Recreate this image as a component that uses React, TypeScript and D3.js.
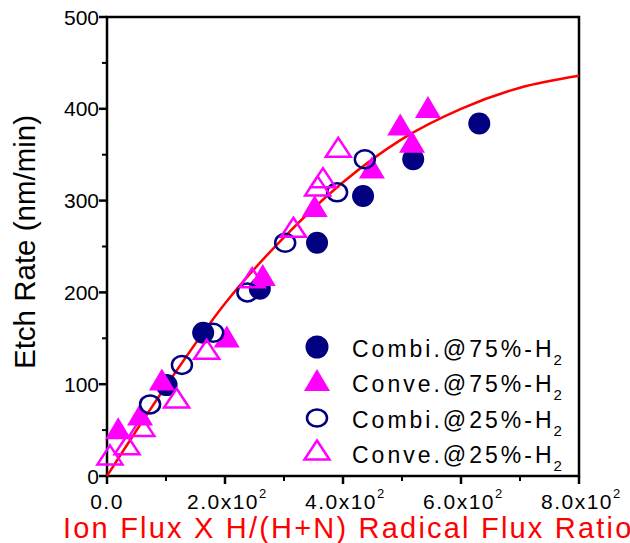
import * as d3 from 'd3';
import React, { useRef, useEffect } from 'react';

const combi75 = [[101, 99], [163, 156], [259, 204], [356, 254], [434, 305], [519, 345], [631, 384]];
const conve75 = [[19, 52], [56, 67], [93, 105], [203, 152], [264, 219], [352, 294], [449, 336], [497, 383], [517, 364], [544, 402]];
const combi25 = [[73, 78], [127, 121], [180, 156], [238, 200], [302, 254], [390, 309], [437, 345]];
const conve25 = [[5, 23], [34, 34], [59, 54], [118, 85], [169, 138], [246, 216], [316, 271], [357, 316], [366, 325], [392, 358]];
const fitLine = [[0, 0], [100, 98], [200, 188], [300, 260], [400, 320], [500, 367], [600, 400], [700, 423], [800, 436]];

const xTicks = [0, 200, 400, 600, 800];
const xMinor = [100, 300, 500, 700];
const xTickLabels = ['0.0', '2.0x10', '4.0x10', '6.0x10', '8.0x10'];
const yTicks = [0, 100, 200, 300, 400, 500];
const yMinor = [50, 150, 250, 350, 450];
const legendLabels = ['Combi.@75%-H', 'Conve.@75%-H', 'Combi.@25%-H', 'Conve.@25%-H'];

const NAVY = '#000080';
const MAGENTA = '#ff00ff';

function App() {
    const ref = useRef(null);

    useEffect(() => {
        const svg = d3.select(ref.current);
        svg.selectAll('*').remove();

        const left = 107, right = 579, top = 17, bottom = 476;
        const x = d3.scaleLinear().domain([0, 800]).range([left, right]);
        const y = d3.scaleLinear().domain([0, 500]).range([bottom, top]);
        const font = 'Arial, "Liberation Sans", Helvetica, sans-serif';

        const triPath = (w, h) => `M0,${-h / 2}L${w / 2},${h / 2}L${-w / 2},${h / 2}Z`;

        // frame
        svg.append('rect')
            .attr('x', left).attr('y', top)
            .attr('width', right - left).attr('height', bottom - top)
            .attr('fill', 'none').attr('stroke', '#000').attr('stroke-width', 2.5);

        // y ticks
        yTicks.forEach(t => {
            svg.append('line').attr('x1', left - 8).attr('x2', left).attr('y1', y(t)).attr('y2', y(t))
                .attr('stroke', '#000').attr('stroke-width', 2.5);
            svg.append('text').attr('x', 99).attr('y', y(t)).attr('dy', '0.36em')
                .attr('text-anchor', 'end').style('font-family', font).style('font-size', '21px')
                .text(t);
        });
        yMinor.forEach(t => {
            svg.append('line').attr('x1', left - 5).attr('x2', left).attr('y1', y(t)).attr('y2', y(t))
                .attr('stroke', '#000').attr('stroke-width', 2);
        });

        // x ticks
        xTicks.forEach((t, i) => {
            svg.append('line').attr('x1', x(t)).attr('x2', x(t)).attr('y1', bottom).attr('y2', bottom + 8)
                .attr('stroke', '#000').attr('stroke-width', 2.5);
            const lab = svg.append('text').attr('y', 509)
                .style('font-family', font).style('font-size', '21px').style('letter-spacing', '1.5px');
            if (i === 0) {
                lab.attr('x', x(t)).attr('text-anchor', 'middle').text(xTickLabels[i]);
            } else {
                lab.attr('x', x(t) - 38).text(xTickLabels[i]);
                lab.append('tspan').attr('dy', -11).style('font-size', '13px').text('2');
            }
        });
        xMinor.forEach(t => {
            svg.append('line').attr('x1', x(t)).attr('x2', x(t)).attr('y1', bottom).attr('y2', bottom + 5)
                .attr('stroke', '#000').attr('stroke-width', 2);
        });

        // fit line
        const line = d3.line().x(d => x(d[0])).y(d => y(d[1])).curve(d3.curveMonotoneX);
        svg.append('path').datum(fitLine).attr('d', line)
            .attr('fill', 'none').attr('stroke', '#ff0000').attr('stroke-width', 2.5);

        // series
        svg.selectAll('.c75').data(combi75).enter().append('circle')
            .attr('cx', d => x(d[0])).attr('cy', d => y(d[1])).attr('r', 11).attr('fill', NAVY);
        svg.selectAll('.v75').data(conve75).enter().append('path')
            .attr('d', triPath(26, 22))
            .attr('transform', d => `translate(${x(d[0])},${y(d[1])})`).attr('fill', MAGENTA);
        svg.selectAll('.c25').data(combi25).enter().append('ellipse')
            .attr('cx', d => x(d[0])).attr('cy', d => y(d[1])).attr('rx', 10).attr('ry', 9)
            .attr('fill', 'none').attr('stroke', NAVY).attr('stroke-width', 2.5);
        svg.selectAll('.v25').data(conve25).enter().append('path')
            .attr('d', triPath(25, 19))
            .attr('transform', d => `translate(${x(d[0])},${y(d[1])})`)
            .attr('fill', 'none').attr('stroke', MAGENTA).attr('stroke-width', 2.5);

        // legend
        const rowsY = [347, 380, 418, 450];
        const baseY = [357, 392, 428, 463];
        svg.append('circle').attr('cx', 317).attr('cy', rowsY[0]).attr('r', 11.5).attr('fill', NAVY);
        svg.append('path').attr('d', triPath(26, 22)).attr('transform', `translate(317,${rowsY[1]})`).attr('fill', MAGENTA);
        svg.append('ellipse').attr('cx', 317).attr('cy', rowsY[2]).attr('rx', 10).attr('ry', 8.5)
            .attr('fill', 'none').attr('stroke', NAVY).attr('stroke-width', 2.5);
        svg.append('path').attr('d', triPath(25, 19)).attr('transform', `translate(317,${rowsY[3]})`)
            .attr('fill', 'none').attr('stroke', MAGENTA).attr('stroke-width', 2.5);
        legendLabels.forEach((l, i) => {
            const t = svg.append('text').attr('x', 352).attr('y', baseY[i])
                .style('font-family', font).style('font-size', '23px').style('letter-spacing', '3px')
                .text(l);
            t.append('tspan').attr('dx', -1).attr('dy', 8).style('font-size', '15px').style('letter-spacing', '0px').text('2');
        });

        // axis titles
        svg.append('text')
            .attr('transform', 'translate(35,242) rotate(-90)')
            .attr('text-anchor', 'middle')
            .style('font-family', font).style('font-size', '29.5px')
            .text('Etch Rate (nm/min)');
        svg.append('text')
            .attr('x', 63).attr('y', 538)
            .attr('fill', '#ff0000')
            .style('font-family', font).style('font-size', '29px').style('letter-spacing', '2.2px')
            .text('Ion Flux X H/(H+N) Radical Flux Ratio');
    }, []);

    return (
        <svg ref={ref} width={630} height={543}
            style={{ position: 'absolute', left: 0, top: 0, background: '#fff' }}></svg>
    );
}

export default App;
